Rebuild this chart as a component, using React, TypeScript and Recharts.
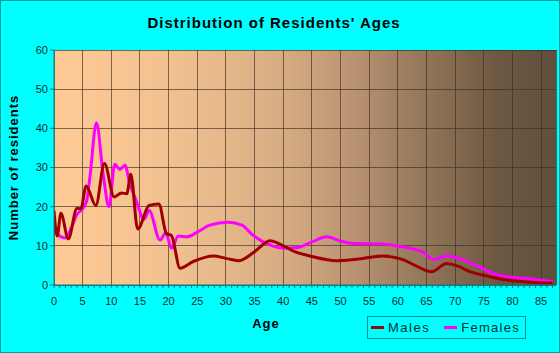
import { LineChart, Line, XAxis, YAxis, CartesianGrid, Legend, Label } from 'recharts'

const maleAges = [0, 0.55, 1.2, 2.5, 4, 4.7, 5.6, 7.3, 8.8, 10.5, 11.8, 12.7, 13.4, 14.6, 16.6, 18.3, 19.6, 20.5, 22, 24.3, 27.8, 30, 32.2, 35, 37.7, 40, 42, 44.7, 49.3, 52.8, 57.5, 59.5, 61, 63, 65.9, 68.5, 70.5, 72.6, 75.5, 78.4, 83, 87]
const maleCounts = [19, 12.5, 18.3, 11.8, 19.5, 19.5, 25.3, 20.3, 31, 22.5, 23.5, 23.3, 28.3, 14.3, 20.3, 20.7, 13.2, 12.6, 4.3, 6, 7.4, 6.8, 6.2, 8.5, 11.3, 10, 8.5, 7.4, 6.2, 6.6, 7.4, 7, 6.4, 5, 3.4, 5.5, 4.8, 3.4, 2.3, 1.4, 0.7, 0.5]

const femaleAges = [0, 1, 2, 3, 4, 5, 5.7, 6.3, 7.4, 8.6, 9.6, 10.6, 11.5, 12.4, 13.2, 14.3, 15.7, 16.6, 18.5, 19.5, 20.5, 21.7, 23.2, 25, 27.2, 30.4, 32.8, 34.5, 36.5, 38.5, 40, 42.6, 45, 47.6, 50, 52.2, 57.5, 60, 62.1, 64.5, 66.2, 68.5, 71.4, 74, 77.3, 80, 82, 85, 87.1]
const femaleCounts = [14.5, 12.5, 12, 14.5, 18, 19.5, 21.5, 28, 41.4, 28, 20, 30.8, 29.5, 30.6, 26, 21.7, 16.8, 19, 11.5, 13.3, 9.4, 12.5, 12.3, 13.5, 15.3, 16, 15.3, 13, 11, 9.8, 9.4, 9.6, 11, 12.3, 11.2, 10.6, 10.5, 9.9, 9.4, 8.3, 6.5, 7.4, 6.4, 4.8, 2.6, 2, 1.7, 1.2, 0.8]

const X_MAX = 87.6
const xTicks = Array.from({ length: 88 }, (_, i) => i)
const xMajor = [0, 5, 10, 15, 20, 25, 30, 35, 40, 45, 50, 55, 60, 65, 70, 75, 80, 85]
const yTicks = [0, 10, 20, 30, 40, 50, 60]

const maleData = maleAges.map((age, i) => ({ age, value: maleCounts[i] }))
const femaleData = femaleAges.map((age, i) => ({ age, value: femaleCounts[i] }))

const FONT = '"Liberation Sans", Arial, sans-serif'
const MALE = '#a00000'
const FEMALE = '#ff00ff'
const AXIS = '#008080'
const TXT = '#0a2e2e'

const legendItems = [
  { name: 'Males', color: MALE, ls: 1.5 },
  { name: 'Females', color: FEMALE, ls: 1.3 },
]

function LegendBox() {
  return (
    <div style={{
      border: '1px solid #009090', height: 21, display: 'flex', alignItems: 'center',
      fontFamily: FONT, fontSize: 13, color: TXT, paddingRight: 5,
    }}>
      {legendItems.map((it, i) => (
        <div key={it.name} style={{ display: 'flex', alignItems: 'center', marginLeft: i === 0 ? 3 : 14 }}>
          <span style={{ display: 'inline-block', width: 13, height: 3, background: it.color, marginRight: 4 }} />
          <span style={{ letterSpacing: it.ls }}>{it.name}</span>
        </div>
      ))}
    </div>
  )
}

export default function App() {
  return (
    <div style={{
      position: 'relative', width: 560, height: 353, background: '#00ffff',
      border: '1px solid #00a0a0', boxSizing: 'border-box', overflow: 'hidden',
    }}>
      <style>{'body{margin:0}'}</style>
      <div style={{
        position: 'absolute', left: 0, top: 13, width: 546, textAlign: 'center',
        fontFamily: FONT, fontWeight: 'bold', fontSize: 15, letterSpacing: 1, color: '#000',
      }}>
        Distribution of Residents' Ages
      </div>
      <div style={{ position: 'absolute', left: -1, top: -1 }}>
        <LineChart width={560} height={353} margin={{ top: 50, right: 4, bottom: 0, left: 0 }}>
          <defs>
            <linearGradient id="bg" x1="0" y1="0" x2="1" y2="0">
              <stop offset="0" stopColor="#ffca96" />
              <stop offset="0.25" stopColor="#f0c08f" />
              <stop offset="0.45" stopColor="#d8ad83" />
              <stop offset="0.6" stopColor="#b99272" />
              <stop offset="0.75" stopColor="#8f7457" />
              <stop offset="0.88" stopColor="#6e5842" />
              <stop offset="1" stopColor="#5f4f3d" />
            </linearGradient>
          </defs>
          <CartesianGrid xAxisId="grid" fill="url(#bg)" fillOpacity={1} stroke="#3a2e22" strokeOpacity={0.65}
            shapeRendering="crispEdges" />
          {/* hidden axis used only for the 5-year grid lines */}
          <XAxis xAxisId="grid" type="number" dataKey="age" domain={[0, X_MAX]} ticks={xMajor} interval={0}
            allowDataOverflow hide />
          <XAxis
            type="number" dataKey="age" domain={[0, X_MAX]} ticks={xTicks} interval={0}
            tickFormatter={(v: number) => (v % 5 === 0 ? String(v) : '')}
            tick={{ fontSize: 11, fill: TXT, fontFamily: FONT }}
            tickSize={3} tickMargin={9} height={68}
            stroke={AXIS} axisLine={{ stroke: AXIS }} tickLine={{ stroke: AXIS }}
            allowDataOverflow
          >
            <Label content={({ viewBox }: any) => (
              <text x={viewBox.x + 212} y={viewBox.y + 43} textAnchor="middle"
                fontFamily={FONT} fontWeight="bold" fontSize={13} letterSpacing={1} fill="#000">Age</text>
            )} />
          </XAxis>
          <YAxis
            type="number" domain={[0, 60]} ticks={yTicks} interval={0} width={54}
            tick={{ fontSize: 11, fill: TXT, fontFamily: FONT }}
            tickSize={4} tickMargin={2}
            stroke={AXIS} axisLine={{ stroke: AXIS }} tickLine={{ stroke: AXIS }}
          >
            <Label content={({ viewBox }: any) => {
              const cx = 13
              const cy = viewBox.y + viewBox.height / 2
              return (
                <text x={cx} y={cy} transform={`rotate(-90 ${cx} ${cy})`} textAnchor="middle" dominantBaseline="central"
                  fontFamily={FONT} fontWeight="bold" fontSize={13} letterSpacing={1} fill="#000">Number of residents</text>
              )
            }} />
          </YAxis>
          <Legend
            layout="horizontal" verticalAlign="middle" align="center"
            wrapperStyle={{ left: 367, top: 316, width: 'auto', height: 'auto' }}
            content={() => <LegendBox />}
          />
          <Line data={femaleData} dataKey="value" name="Females" type="monotone" stroke={FEMALE}
            strokeWidth={3} dot={false} isAnimationActive={false} />
          <Line data={maleData} dataKey="value" name="Males" type="monotone" stroke={MALE}
            strokeWidth={3} dot={false} isAnimationActive={false} />
        </LineChart>
      </div>
    </div>
  )
}
